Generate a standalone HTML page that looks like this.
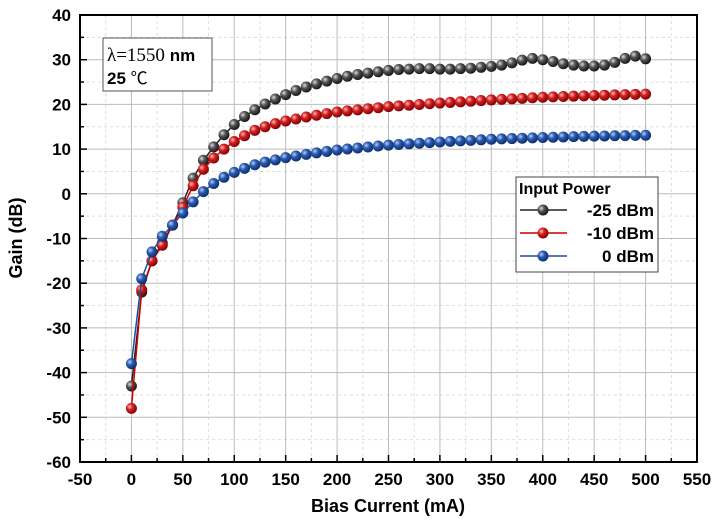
<!DOCTYPE html>
<html><head><meta charset="utf-8"><style>
body{margin:0;background:#fff}
svg{display:block;font-family:"Liberation Sans",Arial,sans-serif}
</style></head><body>
<svg id="s" width="714" height="520" viewBox="0 0 714 520" xmlns="http://www.w3.org/2000/svg">
<defs>
<radialGradient id="gk" cx="0.35" cy="0.35" r="0.7"><stop offset="0" stop-color="#ddd"/><stop offset="0.4" stop-color="#555"/><stop offset="1" stop-color="#111"/></radialGradient>
<radialGradient id="gr" cx="0.35" cy="0.35" r="0.7"><stop offset="0" stop-color="#fbb"/><stop offset="0.4" stop-color="#d42020"/><stop offset="1" stop-color="#700"/></radialGradient>
<radialGradient id="gb" cx="0.35" cy="0.35" r="0.7"><stop offset="0" stop-color="#bcf"/><stop offset="0.4" stop-color="#2a5cb0"/><stop offset="1" stop-color="#0a2a66"/></radialGradient>
</defs>
</svg>
<script>
const s=document.getElementById('s');const NS='http://www.w3.org/2000/svg';
function el(t,a,txt){const e=document.createElementNS(NS,t);for(const k in a)e.setAttribute(k,a[k]);if(txt!==undefined)e.textContent=txt;s.appendChild(e);return e;}
const X=v=>80+(v+50)*617/600, Y=v=>15+(40-v)*4.47;
for(let v=-25;v<550;v+=50)el('line',{x1:X(v),x2:X(v),y1:15,y2:462,stroke:'#ddd','stroke-dasharray':'3,3'});
for(let v=-55;v<40;v+=10)el('line',{x1:80,x2:697,y1:Y(v),y2:Y(v),stroke:'#ddd','stroke-dasharray':'3,3'});
for(let v=0;v<550;v+=50)el('line',{x1:X(v),x2:X(v),y1:15,y2:462,stroke:'#bbb'});
for(let v=-50;v<40;v+=10)el('line',{x1:80,x2:697,y1:Y(v),y2:Y(v),stroke:'#bbb'});
el('rect',{x:80,y:15,width:617,height:447,fill:'none',stroke:'#000','stroke-width':2});
for(let v=-50;v<=550;v+=25){const big=v%50==0;el('line',{x1:X(v),x2:X(v),y1:462,y2:462-(big?7:4),stroke:'#000','stroke-width':1.5});
 if(big)el('text',{x:X(v),y:485,'text-anchor':'middle','font-size':17,'font-weight':'bold'},v);}
for(let v=-60;v<=40;v+=5){const big=v%10==0;el('line',{x1:80,x2:80+(big?7:4),y1:Y(v),y2:Y(v),stroke:'#000','stroke-width':1.5});
 if(big)el('text',{x:71,y:Y(v)+6,'text-anchor':'end','font-size':17,'font-weight':'bold'},v);}
el('text',{x:388,y:512,'text-anchor':'middle','font-size':18,'font-weight':'bold'},'Bias Current (mA)');
el('text',{x:22,y:238,'text-anchor':'middle','font-size':18,'font-weight':'bold',transform:'rotate(-90 22 238)'},'Gain (dB)');
function interp(k){const xs=Object.keys(k).map(Number).sort((a,b)=>a-b);const r=[];for(let x=0;x<=500;x+=10){let i=0;while(i<xs.length-1&&xs[i+1]<x)i++;const a=xs[i],b=xs[Math.min(i+1,xs.length-1)];const y=b==a?k[a]:k[a]+(k[b]-k[a])*(x-a)/(b-a);r.push([x,k[x]!==undefined?k[x]:y]);}return r;}
const K=interp({0:-43,10:-22,20:-15,30:-11,40:-7,50:-2,60:3.5,70:7.5,80:10.5,90:13.2,100:15.5,110:17.3,120:18.8,130:20.1,140:21.2,150:22.2,160:23.1,170:23.9,180:24.6,190:25.2,200:25.8,210:26.3,220:26.7,230:27,240:27.3,250:27.6,260:27.8,270:27.9,280:28,290:28,300:27.9,310:27.9,320:28,330:28.1,340:28.3,350:28.5,360:28.8,370:29.3,380:29.9,390:30.3,400:30,410:29.6,420:29.1,430:28.8,440:28.6,450:28.6,460:28.8,470:29.4,480:30.3,490:30.8,500:30.2});
const R=interp({0:-48,10:-21.5,20:-15,30:-11.5,40:-7,50:-3,60:1.8,70:5.5,80:8,90:10,100:11.7,110:13,120:14.2,130:15,140:15.7,150:16.3,175:17.4,200:18.3,250:19.5,300:20.3,350:21,400:21.6,450:22,500:22.3});
const B=interp({0:-38,10:-19,20:-13,30:-9.5,40:-7,50:-4.3,60:-1.8,70:0.5,80:2.3,90:3.7,100:4.8,110:5.7,120:6.5,130:7.1,140:7.6,150:8.1,175:9,200:9.8,250:10.9,300:11.6,350:12.2,400:12.6,450:12.9,500:13.1});
function series(d,c,g){el('polyline',{points:d.map(p=>X(p[0])+','+Y(p[1])).join(' '),fill:'none',stroke:c,'stroke-width':1.5});
 d.forEach(p=>el('circle',{cx:X(p[0]),cy:Y(p[1]),r:5.5,fill:'url(#'+g+')'}));}
series(K,'#222','gk');series(R,'#c00','gr');series(B,'#1a4fa0','gb');
el('rect',{x:103,y:38,width:109,height:53,fill:'#fff',stroke:'#555'});
const t=el('text',{x:107,y:61,'font-size':19,'font-family':'Liberation Serif,serif'});
t.innerHTML='λ=1550 <tspan font-family="Liberation Sans" font-weight="bold" font-size="17">nm</tspan>';
const t2=el('text',{x:107,y:84,'font-size':17,'font-weight':'bold'});t2.innerHTML='25 <tspan font-weight="normal" font-family="Noto Sans CJK SC">℃</tspan>';
el('rect',{x:516,y:177,width:142,height:95,fill:'#fff',stroke:'#444'});
el('text',{x:519,y:194,'font-size':16,'font-weight':'bold'},'Input Power');
[['-25 dBm','#222','gk',215],['-10 dBm','#c00','gr',238],['0 dBm','#1a4fa0','gb',261]].forEach(a=>{
 el('line',{x1:520,x2:567,y1:a[3]-5,y2:a[3]-5,stroke:a[1],'stroke-width':1.5});
 el('circle',{cx:543,cy:a[3]-5,r:5.5,fill:'url(#'+a[2]+')'});
 el('text',{x:654,y:a[3]+1,'text-anchor':'end','font-size':17,'font-weight':'bold'},a[0]);});
</script>
</body></html>
